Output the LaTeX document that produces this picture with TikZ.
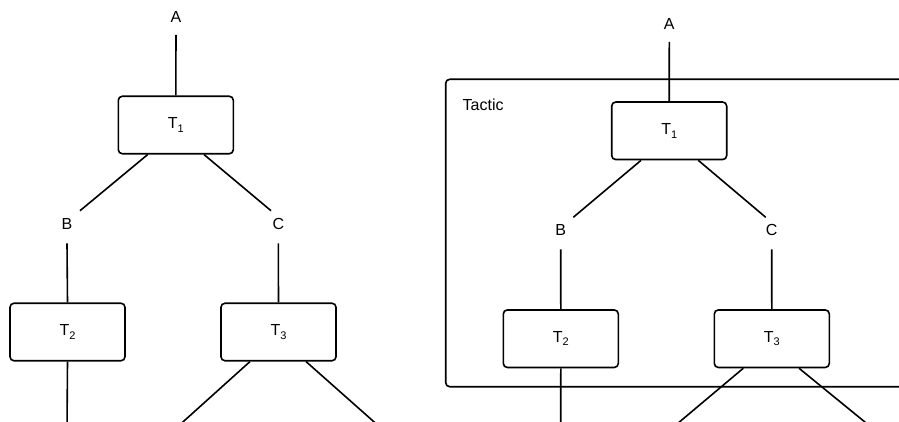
\documentclass[tikz,border=0pt]{standalone}
\usepackage{fontspec}
\setmainfont{Liberation Sans}
\usetikzlibrary{calc}
\tikzset{
  tbox/.style={draw, line width=1.6pt, rounded corners=4pt, minimum width=115pt, minimum height=57.5pt, inner sep=0pt},
  lbl/.style={inner sep=0pt, font=\fontsize{16}{19}\selectfont},
  conn/.style={line width=1.6pt},
  frame/.style={draw, line width=1.6pt, rounded corners=4pt}
}
\newcommand{\Tsub}[1]{T\raisebox{-0.22em}{\fontsize{11}{13}\selectfont #1}}
\begin{document}
\begin{tikzpicture}[x=1pt,y=-1pt]
\useasboundingbox (0,0) rectangle (899,422);
\clip (0,0) rectangle (899,422);
% ---------- left diagram ----------
\node[lbl] (lA) at (176,17) {A};
\node[tbox,lbl] (lT1) at (175.8,125) {\Tsub{1}};
\node[lbl] (lB) at (67,224) {B};
\node[lbl] (lC) at (278.3,224) {C};
\node[tbox,lbl] (lT2) at (67.5,332) {\Tsub{2}};
\node[tbox,lbl] (lT3) at (278.5,332) {\Tsub{3}};
\coordinate (lE1) at (67,430);
\coordinate (lE2) at (174,430);
\coordinate (lE3) at (383.2,430);
\draw[conn] ($(lA)+(0,18)$) -- (lT1.north);
\draw[conn] ($(lT1.south)+(-28.1,0)$) -- ($(lB)+(13,-13.3)$);
\draw[conn] ($(lT1.south)+(28.2,0)$) -- ($(lC)+(-7.3,-13.3)$);
\draw[conn] ($(lB)+(0,19.3)$) -- (lT2.north);
\draw[conn] ($(lC)+(0,19.3)$) -- (lT3.north);
\draw[conn] (lT2.south) -- (lE1);
\draw[conn] ($(lT3.south)+(-28.5,0)$) -- (lE2);
\draw[conn] ($(lT3.south)+(27.5,0)$) -- (lE3);
% ---------- right diagram ----------
\draw[frame] (445.7,79.3) rectangle (920,386.7);
\node[lbl, anchor=west] (tactic) at (462.5,105) {Tactic};
\node[lbl] (rA) at (669.3,24) {A};
\node[tbox,lbl,fill=white] (rT1) at (669.2,130.8) {\Tsub{1}};
\node[lbl] (rB) at (560.7,230) {B};
\node[lbl] (rC) at (771.7,230) {C};
\node[tbox,lbl,fill=white] (rT2) at (560.8,338.7) {\Tsub{2}};
\node[tbox,lbl,fill=white] (rT3) at (771.8,338.7) {\Tsub{3}};
\coordinate (rE1) at (560.7,430);
\coordinate (rE2) at (669.9,430);
\coordinate (rE3) at (874.7,430);
\draw[conn] ($(rA)+(0,18)$) -- (rT1.north);
\draw[conn] ($(rT1.south)+(-28.2,0)$) -- ($(rB)+(12.6,-12.7)$);
\draw[conn] ($(rT1.south)+(29.1,0)$) -- ($(rC)+(-6,-12.7)$);
\draw[conn] ($(rB)+(0,19.3)$) -- (rT2.north);
\draw[conn] ($(rC)+(0,19.3)$) -- (rT3.north);
\draw[conn] (rT2.south) -- (rE1);
\draw[conn] ($(rT3.south)+(-28.5,0)$) -- (rE2);
\draw[conn] ($(rT3.south)+(27.2,0)$) -- (rE3);
\end{tikzpicture}
\end{document}
